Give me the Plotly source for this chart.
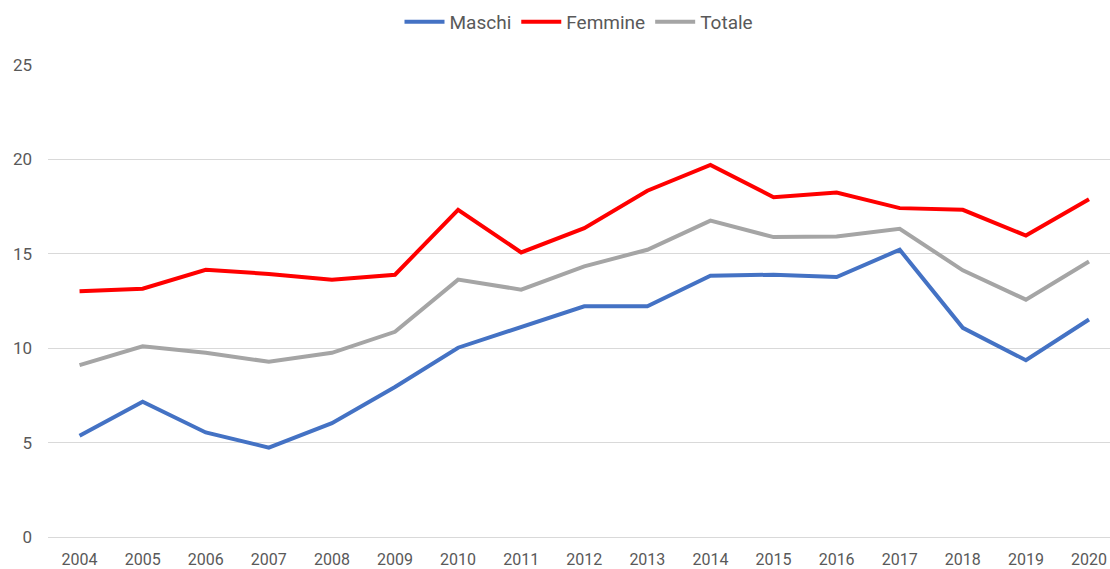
import plotly.graph_objects as go

years = list(range(2004, 2021))
maschi = [5.37, 7.18, 5.55, 4.75, 6.04, 7.95, 10.03, 11.13, 12.22, 12.22, 13.84, 13.89, 13.77, 15.21, 11.08, 9.37, 11.52]
femmine = [13.01, 13.15, 14.15, 13.93, 13.63, 13.89, 17.32, 15.07, 16.35, 18.33, 19.69, 17.99, 18.23, 17.41, 17.32, 15.96, 17.88]
totale = [9.11, 10.11, 9.76, 9.29, 9.76, 10.87, 13.63, 13.10, 14.33, 15.21, 16.75, 15.88, 15.91, 16.32, 14.12, 12.57, 14.59]

series = [("Maschi", maschi, "#4472C4"), ("Femmine", femmine, "#FF0000"), ("Totale", totale, "#A5A5A5")]

fig = go.Figure()
for name, vals, col in series:
    fig.add_trace(go.Scatter(x=years, y=vals, name=name, mode="lines",
                             line=dict(color=col, width=4)))

font_family = "Roboto, Open Sans, sans-serif"
fig.update_layout(
    width=1110, height=569,
    margin=dict(l=48, r=0, t=64, b=31),
    paper_bgcolor="white", plot_bgcolor="white",
    font=dict(family=font_family, size=17, color="#595959"),
    showlegend=True,
    legend=dict(orientation="h", x=0.5, xanchor="center",
                y=1 - 22 / 569, yanchor="middle", yref="container",
                font=dict(size=19, color="#595959"),
                itemwidth=40, traceorder="normal"),
    xaxis=dict(range=[2003.5, 2020.333], tickmode="array", tickvals=years,
               ticktext=[str(y) for y in years], showgrid=False, zeroline=False,
               showline=False, ticks="", ticklabelstandoff=10, automargin=False,
               tickfont=dict(size=16, color="#595959")),
    yaxis=dict(range=[-0.03, 25.03], tickmode="array", tickvals=[0, 5, 10, 15, 20, 25],
               showgrid=True, gridcolor="#D9D9D9", gridwidth=1,
               zeroline=True, zerolinecolor="#D9D9D9", zerolinewidth=1,
               showline=False, ticks="", ticklabelstandoff=15, automargin=False,
               tickfont=dict(size=17, color="#595959")),
)
fig.write_html("out.html", config={"displayModeBar": False},
               post_script="document.body.style.margin='0';")
